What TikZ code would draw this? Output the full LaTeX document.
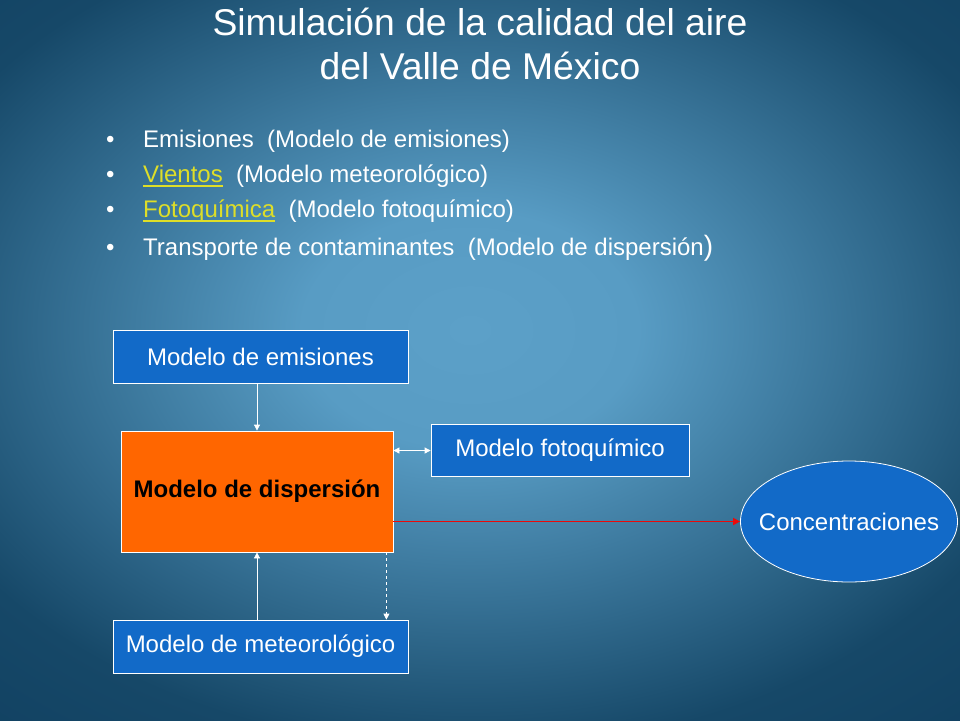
\documentclass[tikz,border=0pt]{standalone}
\usepackage{fontspec}
\setmainfont{Liberation Sans}
\usetikzlibrary{shapes.geometric,arrows.meta}
\definecolor{bglight}{RGB}{92,160,200}
\definecolor{bgplat}{RGB}{88,156,196}
\definecolor{bgdark}{RGB}{22,72,104}
\definecolor{bgdeep}{RGB}{15,62,95}
\definecolor{boxblue}{RGB}{18,106,200}
\definecolor{orng}{RGB}{255,102,0}
\definecolor{yel}{RGB}{222,222,40}
\definecolor{redline}{RGB}{235,10,10}
\pgfdeclareradialshading{bgshade}{\pgfpoint{0bp}{0bp}}{color(0bp)=(bglight); color(7bp)=(bgplat); color(25bp)=(bgdark); color(35bp)=(bgdeep); color(50bp)=(bgdeep)}
\newcommand\yul[1]{{\color{yel}\setbox0\hbox{#1}\rlap{\rule[-4.5pt]{\wd0}{1.6pt}}\box0}}
\tikzset{
  box/.style={draw=white, line width=0.8pt, fill=boxblue, text=white,
    font=\fontsize{24}{28}\selectfont, inner sep=0pt},
  bul/.style={anchor=base west, text=white, inner sep=0pt,
    font=\fontsize{24}{28}\selectfont},
  ttl/.style={anchor=base, text=white, inner sep=0pt,
    font=\fontsize{37.3}{44}\selectfont},
  arr/.style={draw=white, line width=0.8pt, -{Triangle[length=6pt,width=6pt]}},
  darr/.style={draw=white, line width=0.8pt, {Triangle[length=6pt,width=6pt]}-{Triangle[length=6pt,width=6pt]}},
  redarr/.style={line width=1.5pt, color=redline, -{Triangle[length=7pt,width=7pt]}},
}
\begin{document}
\begin{tikzpicture}[x=1pt,y=-1pt]
\useasboundingbox (0,0) rectangle (960,720);
\clip (0,0) rectangle (960,720);
\shade[shading=bgshade] (-130,-90) rectangle (1070,750);

% title
\node[ttl] (t1) at (480,35) {Simulación de la calidad del aire};
\node[ttl] (t2) at (480,79) {del Valle de México};

% bullets
\node[bul] (b1) at (106,147) {•};
\node[bul] (b2) at (106,182) {•};
\node[bul] (b3) at (106,217) {•};
\node[bul] (b4) at (106,255) {•};
\node[bul] (l1) at (143,147) {Emisiones\ \ (Modelo de emisiones)};
\node[bul] (l2) at (143,182) {\yul{Vientos}\ \ (Modelo meteorológico)};
\node[bul] (l3) at (143,217) {\yul{Fotoquímica}\ \ (Modelo fotoquímico)};
\node[bul] (l4) at (143,255) {Transporte de contaminantes\ \ (Modelo de dispersión{\fontsize{28}{30}\selectfont)}};

% boxes
\node[box, minimum width=295pt, minimum height=53pt] (emis) at (260.5,356.5) {Modelo de emisiones};
\node[box, fill=orng, text=black, minimum width=272pt, minimum height=121pt,
  font=\fontsize{24}{28}\selectfont\bfseries] (disp) at (257,491.5) {Modelo de dispersión};
\node[box, minimum width=258pt, minimum height=52pt] (foto) at (560,450.5) {Modelo fotoquímico};
\node[box, minimum width=295pt, minimum height=53pt] (meteo) at (260.5,646.5) {Modelo de meteorológico};
\node[box, ellipse, inner xsep=-14pt, minimum width=217pt, minimum height=121pt] (conc) at (849,521.5) {Concentraciones};

% connectors
\draw[arr] (disp.north |- emis.south) -- (disp.north);
\draw[arr] (disp.south |- meteo.north) -- (disp.south);
\draw[darr] (foto.west -| disp.east) -- (foto.west);
\draw[redarr] (disp.east |- conc.west) -- (conc.west);
\coordinate (dtop) at ([xshift=-7pt]disp.south east);
\draw[arr, dashed] (dtop) -- (dtop |- meteo.north);
\end{tikzpicture}
\end{document}
